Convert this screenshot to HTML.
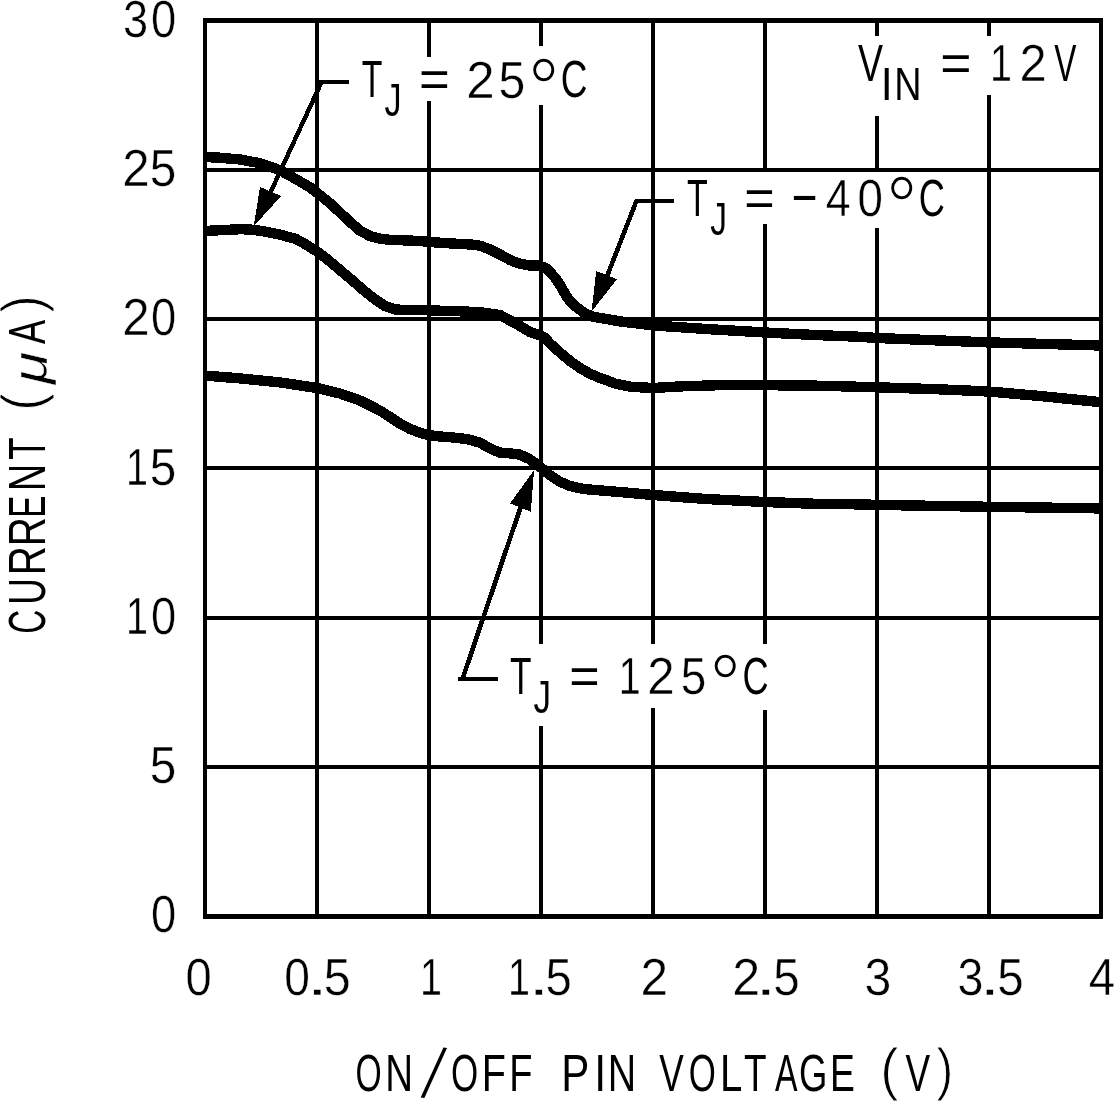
<!DOCTYPE html>
<html lang="en">
<head>
<meta charset="utf-8">
<title>Current vs ON/OFF Pin Voltage</title>
<style>
html,body{margin:0;padding:0;background:#fff;}
body{width:1114px;height:1101px;overflow:hidden;font-family:"Liberation Sans",sans-serif;}
svg{display:block;will-change:transform;}
svg text{font-family:"Liberation Sans",sans-serif;white-space:pre;}
</style>
</head>
<body>
<svg width="1114" height="1101" viewBox="0 0 1114 1101" shape-rendering="crispEdges" fill="#000" role="img" aria-label="Current (uA) versus ON/OFF pin voltage (V) at VIN = 12V for TJ = -40C, 25C and 125C">
<rect x="0" y="0" width="1114" height="1101" fill="#fff"/>
<g id="grid"><rect x="203" y="18" width="900" height="5"/><rect x="203" y="914" width="900" height="5"/><rect x="203" y="18" width="4" height="901"/><rect x="1099" y="18" width="4" height="901"/><rect x="205" y="168" width="896" height="4"/><rect x="205" y="317" width="896" height="4"/><rect x="205" y="466" width="896" height="4"/><rect x="205" y="616" width="896" height="4"/><rect x="205" y="765" width="896" height="4"/><rect x="315" y="20.0" width="4" height="897.0"/><rect x="427" y="20.0" width="4" height="36.7"/><rect x="427" y="101.4" width="4" height="815.6"/><rect x="539" y="20.0" width="4" height="26.0"/><rect x="539" y="104.6" width="4" height="539.2"/><rect x="539" y="725.7" width="4" height="191.3"/><rect x="651" y="20.0" width="4" height="623.8"/><rect x="651" y="707.9" width="4" height="209.1"/><rect x="763" y="20.0" width="4" height="152.0"/><rect x="763" y="223.9" width="4" height="419.9"/><rect x="763" y="710.0" width="4" height="207.0"/><rect x="875" y="20.0" width="4" height="15.6"/><rect x="875" y="115.5" width="4" height="56.5"/><rect x="875" y="227.8" width="4" height="689.2"/><rect x="987" y="20.0" width="4" height="15.6"/><rect x="987" y="94.9" width="4" height="822.1"/></g>
<g id="curves" fill="none" stroke="#000" stroke-width="10.4" stroke-linejoin="round" stroke-linecap="butt"><polyline points="205.0,157.0 220.0,157.7 240.0,159.5 260.0,163.2 280.0,170.2 290.0,175.8 300.0,181.5 310.0,187.3 317.0,192.8 330.0,203.2 340.0,212.5 350.0,222.0 360.0,230.7 370.0,236.0 380.0,238.7 390.0,239.8 400.0,240.2 420.0,241.0 429.0,242.0 460.0,244.0 470.0,244.4 480.0,245.7 490.0,249.5 500.0,254.5 510.0,260.0 520.0,263.8 530.0,265.5 540.0,265.6 547.0,269.0 555.0,277.5 560.0,285.0 566.0,295.5 570.0,301.0 575.5,306.4 584.5,313.2 593.6,316.8 602.7,318.4 621.0,321.5 653.0,325.4 706.0,329.0 765.0,332.5 812.5,334.9 860.0,336.8 877.0,338.0 988.6,342.4 1101.0,345.5"/><polyline points="205.0,231.0 220.0,230.2 240.0,229.2 250.0,229.5 260.0,230.7 280.0,234.6 296.0,239.0 305.0,244.0 317.0,251.5 325.0,257.5 335.0,265.7 345.0,274.2 355.0,282.7 365.0,291.5 375.0,299.3 385.0,306.0 395.0,309.5 405.0,309.9 420.0,310.0 429.0,310.4 460.0,311.3 480.0,312.2 500.0,315.0 510.0,320.5 520.0,326.0 530.0,332.0 540.0,335.3 545.0,338.0 550.0,343.5 560.0,352.5 570.0,361.0 580.0,368.0 590.0,373.7 600.0,378.0 610.0,381.5 614.0,383.3 630.7,386.8 653.0,388.0 682.6,386.3 718.0,385.2 765.0,385.2 812.5,385.6 860.0,386.8 877.0,387.3 936.6,389.2 988.6,391.5 1043.0,396.3 1101.0,402.2"/><polyline points="205.0,375.6 240.0,378.4 280.0,382.4 317.0,388.0 330.0,391.2 340.0,393.5 350.0,397.0 360.0,400.5 370.0,405.5 380.0,410.6 390.0,417.0 400.0,423.6 410.0,429.0 420.0,432.7 429.0,435.2 440.0,436.5 450.0,437.2 460.0,438.2 470.0,439.8 480.0,442.7 490.0,448.5 500.0,452.6 510.0,453.4 520.0,454.6 530.0,459.4 540.0,466.8 550.0,475.2 560.0,481.8 570.0,486.0 580.0,488.3 590.0,489.6 620.0,492.0 653.0,495.0 706.0,499.0 765.0,502.0 812.5,503.7 860.0,504.4 877.0,504.9 988.6,506.8 1101.0,508.4"/></g>
<g id="leaders"><rect x="319.0" y="80.0" width="30.0" height="4.0"/><polygon points="320.06,80.00 324.96,80.00 271.95,194.50 267.05,194.50"/><polygon points="253.7,226.3 260.0,187.0 281.1,196.0"/><rect x="635.0" y="199.0" width="38.8" height="4.0"/><polygon points="634.75,199.00 639.65,199.00 608.73,278.10 603.82,278.10"/><polygon points="591.6,311.5 596.2,271.0 617.0,279.2"/><rect x="458.0" y="677.0" width="40.0" height="4.0"/><polygon points="459.35,681.00 464.25,681.00 523.93,504.60 519.03,504.60"/><polygon points="534.1,470.0 510.1,503.4 530.8,511.8"/></g>
<g id="labels" font-family="Liberation Sans, sans-serif" font-size="52" fill="#000"><text y="36.60" ><tspan x="123.05" textLength="25.16" lengthAdjust="spacingAndGlyphs" y="36.83" font-size="52.25" stroke="#fff" stroke-width="0.45">3</tspan><tspan x="151.01" textLength="25.19" lengthAdjust="spacingAndGlyphs" y="36.83" font-size="52.25" stroke="#fff" stroke-width="0.45">0</tspan></text>
<text y="185.60" ><tspan x="122.30" textLength="27.41" lengthAdjust="spacingAndGlyphs" y="185.82" font-size="52.25" stroke="#fff" stroke-width="0.45">2</tspan><tspan x="149.86" textLength="26.57" lengthAdjust="spacingAndGlyphs" y="185.82" font-size="52.25" stroke="#fff" stroke-width="0.45">5</tspan></text>
<text y="334.60" ><tspan x="122.30" textLength="27.41" lengthAdjust="spacingAndGlyphs" y="334.83" font-size="52.25" stroke="#fff" stroke-width="0.45">2</tspan><tspan x="151.01" textLength="25.19" lengthAdjust="spacingAndGlyphs" y="334.83" font-size="52.25" stroke="#fff" stroke-width="0.45">0</tspan></text>
<text y="484.40" ><tspan x="126.00" textLength="22.00" lengthAdjust="spacingAndGlyphs" y="484.62" font-size="52.25" stroke="#fff" stroke-width="0.45">1</tspan><tspan x="149.86" textLength="26.57" lengthAdjust="spacingAndGlyphs" y="484.62" font-size="52.25" stroke="#fff" stroke-width="0.45">5</tspan></text>
<text y="633.50" ><tspan x="126.00" textLength="22.00" lengthAdjust="spacingAndGlyphs" y="633.73" font-size="52.25" stroke="#fff" stroke-width="0.45">1</tspan><tspan x="151.01" textLength="25.19" lengthAdjust="spacingAndGlyphs" y="633.73" font-size="52.25" stroke="#fff" stroke-width="0.45">0</tspan></text>
<text y="782.60" ><tspan x="149.86" textLength="26.57" lengthAdjust="spacingAndGlyphs" y="782.83" font-size="52.25" stroke="#fff" stroke-width="0.45">5</tspan></text>
<text y="931.60" ><tspan x="151.01" textLength="25.19" lengthAdjust="spacingAndGlyphs" y="931.83" font-size="52.25" stroke="#fff" stroke-width="0.45">0</tspan></text>
<text y="994.30" ><tspan x="185.43" textLength="26.24" lengthAdjust="spacingAndGlyphs" y="994.52" font-size="52.25" stroke="#fff" stroke-width="0.45">0</tspan></text>
<text y="994.30" ><tspan x="284.27" textLength="25.65" lengthAdjust="spacingAndGlyphs" y="994.52" font-size="52.25" stroke="#fff" stroke-width="0.45">0</tspan><tspan x="306.82" textLength="21.16" lengthAdjust="spacingAndGlyphs" y="994.52" font-size="52.25" stroke="#fff" stroke-width="0.45">.</tspan><tspan x="323.84" textLength="26.92" lengthAdjust="spacingAndGlyphs" y="994.52" font-size="52.25" stroke="#fff" stroke-width="0.45">5</tspan></text>
<text y="994.30" ><tspan x="420.00" textLength="22.00" lengthAdjust="spacingAndGlyphs" y="994.52" font-size="52.25" stroke="#fff" stroke-width="0.45">1</tspan></text>
<text y="994.30" ><tspan x="508.00" textLength="22.00" lengthAdjust="spacingAndGlyphs" y="994.52" font-size="52.25" stroke="#fff" stroke-width="0.45">1</tspan><tspan x="528.22" textLength="21.16" lengthAdjust="spacingAndGlyphs" y="994.52" font-size="52.25" stroke="#fff" stroke-width="0.45">.</tspan><tspan x="545.48" textLength="26.33" lengthAdjust="spacingAndGlyphs" y="994.52" font-size="52.25" stroke="#fff" stroke-width="0.45">5</tspan></text>
<text y="994.30" ><tspan x="640.49" textLength="27.53" lengthAdjust="spacingAndGlyphs" y="994.52" font-size="52.25" stroke="#fff" stroke-width="0.45">2</tspan></text>
<text y="994.30" ><tspan x="732.25" textLength="27.90" lengthAdjust="spacingAndGlyphs" y="994.52" font-size="52.25" stroke="#fff" stroke-width="0.45">2</tspan><tspan x="755.13" textLength="21.74" lengthAdjust="spacingAndGlyphs" y="994.52" font-size="52.25" stroke="#fff" stroke-width="0.45">.</tspan><tspan x="773.27" textLength="26.45" lengthAdjust="spacingAndGlyphs" y="994.52" font-size="52.25" stroke="#fff" stroke-width="0.45">5</tspan></text>
<text y="994.30" ><tspan x="864.44" textLength="26.80" lengthAdjust="spacingAndGlyphs" y="994.52" font-size="52.25" stroke="#fff" stroke-width="0.45">3</tspan></text>
<text y="994.30" ><tspan x="957.40" textLength="25.87" lengthAdjust="spacingAndGlyphs" y="994.52" font-size="52.25" stroke="#fff" stroke-width="0.45">3</tspan><tspan x="979.41" textLength="20.57" lengthAdjust="spacingAndGlyphs" y="994.52" font-size="52.25" stroke="#fff" stroke-width="0.45">.</tspan><tspan x="997.17" textLength="26.45" lengthAdjust="spacingAndGlyphs" y="994.52" font-size="52.25" stroke="#fff" stroke-width="0.45">5</tspan></text>
<text y="994.30" ><tspan x="1088.68" textLength="26.43" lengthAdjust="spacingAndGlyphs" y="994.52" font-size="52.25" stroke="#fff" stroke-width="0.45">4</tspan></text>
<text y="1091.20" ><tspan x="355.60" textLength="26.21" lengthAdjust="spacingAndGlyphs" y="1091.20">O</tspan><tspan x="385.14" textLength="27.80" lengthAdjust="spacingAndGlyphs" y="1091.20">N</tspan><tspan x="419.30" y="1097.60" font-size="75.00" rotate="9.20" stroke="#fff" stroke-width="2.00">/</tspan><tspan x="450.94" textLength="27.23" lengthAdjust="spacingAndGlyphs" y="1091.20">O</tspan><tspan x="481.76" textLength="24.12" lengthAdjust="spacingAndGlyphs" y="1091.20">F</tspan><tspan x="509.28" textLength="23.25" lengthAdjust="spacingAndGlyphs" y="1091.20">F</tspan><tspan> </tspan><tspan x="561.15" textLength="28.07" lengthAdjust="spacingAndGlyphs" y="1091.20">P</tspan><tspan x="594.34" textLength="11.92" lengthAdjust="spacingAndGlyphs" y="1091.20">I</tspan><tspan x="607.77" textLength="28.44" lengthAdjust="spacingAndGlyphs" y="1091.20">N</tspan><tspan> </tspan><tspan x="659.34" textLength="24.52" lengthAdjust="spacingAndGlyphs" y="1091.20">V</tspan><tspan x="688.65" textLength="27.12" lengthAdjust="spacingAndGlyphs" y="1091.20">O</tspan><tspan x="720.01" textLength="22.33" lengthAdjust="spacingAndGlyphs" y="1091.20">L</tspan><tspan x="744.07" textLength="22.58" lengthAdjust="spacingAndGlyphs" y="1091.20">T</tspan><tspan x="774.93" textLength="22.53" lengthAdjust="spacingAndGlyphs" y="1091.20">A</tspan><tspan x="799.07" textLength="28.36" lengthAdjust="spacingAndGlyphs" y="1091.20">G</tspan><tspan x="829.94" textLength="24.86" lengthAdjust="spacingAndGlyphs" y="1091.20">E</tspan><tspan> </tspan><tspan x="880.31" textLength="18.21" lengthAdjust="spacingAndGlyphs" y="1088.90" font-size="57.45" stroke="#fff" stroke-width="1.00">(</tspan><tspan x="905.54" textLength="24.62" lengthAdjust="spacingAndGlyphs" y="1091.20">V</tspan><tspan x="936.50" textLength="16.83" lengthAdjust="spacingAndGlyphs" y="1088.90" font-size="57.45" stroke="#fff" stroke-width="1.00">)</tspan></text>
<text y="45.00" transform="rotate(-90)"><tspan x="-633.68" textLength="23.95" lengthAdjust="spacingAndGlyphs" y="45.00">C</tspan><tspan x="-604.85" textLength="26.71" lengthAdjust="spacingAndGlyphs" y="45.00">U</tspan><tspan x="-575.32" textLength="29.19" lengthAdjust="spacingAndGlyphs" y="45.00">R</tspan><tspan x="-546.32" textLength="29.19" lengthAdjust="spacingAndGlyphs" y="45.00">R</tspan><tspan x="-517.72" textLength="22.15" lengthAdjust="spacingAndGlyphs" y="45.00">E</tspan><tspan x="-491.08" textLength="27.15" lengthAdjust="spacingAndGlyphs" y="45.00">N</tspan><tspan x="-459.79" textLength="21.61" lengthAdjust="spacingAndGlyphs" y="45.00">T</tspan><tspan> </tspan><tspan x="-410.77" textLength="17.58" lengthAdjust="spacingAndGlyphs" y="41.70" font-size="57.45" stroke="#fff" stroke-width="1.00">(</tspan><tspan x="-384.02" textLength="32.21" lengthAdjust="spacingAndGlyphs" y="46.85" font-size="47.73" font-style="italic" stroke="#fff" stroke-width="0.50">μ</tspan><tspan x="-344.07" textLength="24.14" lengthAdjust="spacingAndGlyphs" y="45.00">A</tspan><tspan x="-312.81" textLength="17.58" lengthAdjust="spacingAndGlyphs" y="41.70" font-size="57.45" stroke="#fff" stroke-width="1.00">)</tspan></text>
<text y="97.30" ><tspan x="361.74" textLength="20.63" lengthAdjust="spacingAndGlyphs" y="97.30">T</tspan><tspan x="384.47" textLength="17.07" lengthAdjust="spacingAndGlyphs" y="116.00" font-size="46.00">J</tspan><tspan> </tspan><tspan x="419.13" textLength="30.77" lengthAdjust="spacingAndGlyphs" y="97.30">=</tspan><tspan> </tspan><tspan x="466.21" textLength="28.38" lengthAdjust="spacingAndGlyphs" y="97.52" font-size="52.25" stroke="#fff" stroke-width="0.45">2</tspan><tspan x="498.45" textLength="26.80" lengthAdjust="spacingAndGlyphs" y="97.52" font-size="52.25" stroke="#fff" stroke-width="0.45">5</tspan><tspan x="527.79" textLength="31.96" lengthAdjust="spacingAndGlyphs" y="117.60" font-size="84.53" stroke="#fff" stroke-width="1.40">°</tspan><tspan x="560.72" textLength="26.68" lengthAdjust="spacingAndGlyphs" y="97.30">C</tspan></text>
<text y="216.00" ><tspan x="687.04" textLength="20.74" lengthAdjust="spacingAndGlyphs" y="216.00">T</tspan><tspan x="710.18" textLength="16.70" lengthAdjust="spacingAndGlyphs" y="234.70" font-size="46.00">J</tspan><tspan> </tspan><tspan x="744.16" textLength="30.41" lengthAdjust="spacingAndGlyphs" y="216.00">=</tspan><tspan> </tspan><tspan x="790.11" textLength="29.19" lengthAdjust="spacingAndGlyphs" y="211.70">-</tspan><tspan x="825.75" textLength="24.78" lengthAdjust="spacingAndGlyphs" y="216.22" font-size="52.25" stroke="#fff" stroke-width="0.45">4</tspan><tspan x="857.59" textLength="25.42" lengthAdjust="spacingAndGlyphs" y="216.22" font-size="52.25" stroke="#fff" stroke-width="0.45">0</tspan><tspan x="885.74" textLength="31.96" lengthAdjust="spacingAndGlyphs" y="236.30" font-size="84.53" stroke="#fff" stroke-width="1.40">°</tspan><tspan x="918.86" textLength="26.11" lengthAdjust="spacingAndGlyphs" y="216.00">C</tspan></text>
<text y="694.00" ><tspan x="510.01" textLength="21.50" lengthAdjust="spacingAndGlyphs" y="694.00">T</tspan><tspan x="533.45" textLength="17.55" lengthAdjust="spacingAndGlyphs" y="712.70" font-size="46.00">J</tspan><tspan> </tspan><tspan x="569.36" textLength="30.41" lengthAdjust="spacingAndGlyphs" y="694.00">=</tspan><tspan> </tspan><tspan x="618.70" textLength="22.00" lengthAdjust="spacingAndGlyphs" y="694.23" font-size="52.25" stroke="#fff" stroke-width="0.45">1</tspan><tspan x="647.30" textLength="27.41" lengthAdjust="spacingAndGlyphs" y="694.23" font-size="52.25" stroke="#fff" stroke-width="0.45">2</tspan><tspan x="680.64" textLength="25.51" lengthAdjust="spacingAndGlyphs" y="694.23" font-size="52.25" stroke="#fff" stroke-width="0.45">5</tspan><tspan x="709.14" textLength="31.96" lengthAdjust="spacingAndGlyphs" y="714.30" font-size="84.53" stroke="#fff" stroke-width="1.40">°</tspan><tspan x="742.46" textLength="26.11" lengthAdjust="spacingAndGlyphs" y="694.00">C</tspan></text>
<text y="81.00" ><tspan x="857.94" textLength="25.03" lengthAdjust="spacingAndGlyphs" y="81.00">V</tspan><tspan x="880.84" textLength="11.92" lengthAdjust="spacingAndGlyphs" y="99.70" font-size="46.00">I</tspan><tspan x="894.30" textLength="27.28" lengthAdjust="spacingAndGlyphs" y="99.70" font-size="46.00">N</tspan><tspan> </tspan><tspan x="940.39" textLength="31.25" lengthAdjust="spacingAndGlyphs" y="81.00">=</tspan><tspan> </tspan><tspan x="990.00" textLength="22.00" lengthAdjust="spacingAndGlyphs" y="81.22" font-size="52.25" stroke="#fff" stroke-width="0.45">1</tspan><tspan x="1019.62" textLength="27.16" lengthAdjust="spacingAndGlyphs" y="81.22" font-size="52.25" stroke="#fff" stroke-width="0.45">2</tspan><tspan x="1054.25" textLength="22.19" lengthAdjust="spacingAndGlyphs" y="81.00">V</tspan></text></g>
</svg>
</body>
</html>
